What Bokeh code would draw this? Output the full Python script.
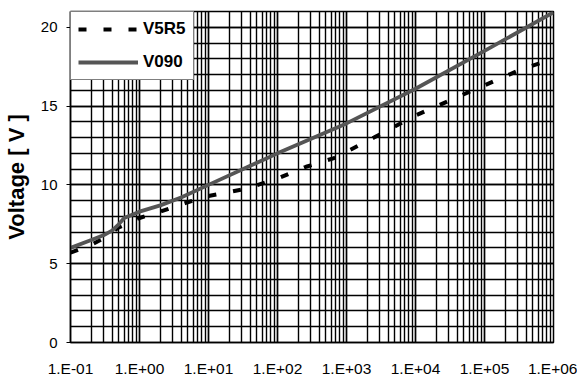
from bokeh.plotting import figure
from bokeh.models import FixedTicker, Range1d, Legend, LegendItem
from bokeh.embed import file_html
from bokeh.resources import INLINE

# Data
v5r5_x = [0.1, 0.2, 0.3, 0.5, 0.7, 1, 2, 5, 10, 35, 100, 260, 660, 1000, 2500, 1e4, 6e4, 3.3e5, 1e6]
v5r5_y = [5.7, 6.2, 6.6, 7.3, 7.6, 7.9, 8.3, 8.9, 9.3, 9.75, 10.4, 11.15, 11.7, 12.1, 13.0, 14.4, 15.9, 17.3, 18.0]
v090_x = [0.1, 0.2, 0.3, 0.4, 0.5, 0.6, 1, 2, 4, 10, 100, 1000, 1e4, 1e5, 1e6]
v090_y = [6.0, 6.5, 6.8, 7.1, 7.5, 7.9, 8.3, 8.7, 9.2, 10.0, 12.0, 13.9, 16.1, 18.5, 20.95]

x_ticks = [0.1, 1, 10, 100, 1000, 1e4, 1e5, 1e6]
x_tick_labels = ["1.E-01", "1.E+00", "1.E+01", "1.E+02", "1.E+03", "1.E+04", "1.E+05", "1.E+06"]
y_ticks = [0, 5, 10, 15, 20]
y_max = 21

FONT = "Liberation Sans"

p = figure(width=577, height=381, x_axis_type="log",
           x_range=Range1d(0.1, 1e6), y_range=Range1d(0, y_max),
           output_backend="svg", toolbar_location=None,
           min_border_left=69, min_border_right=24, min_border_top=11, min_border_bottom=39)
p.background_fill_color = "white"
p.border_fill_color = "white"
p.outline_line_color = "black"
p.outline_line_width = 1.5

x_minor = [m * d for d in x_ticks[:-1] for m in range(1, 11)]
y_minor = list(range(0, y_max + 1))
p.xaxis.ticker = FixedTicker(ticks=x_ticks, minor_ticks=x_minor)
p.yaxis.ticker = FixedTicker(ticks=y_ticks, minor_ticks=y_minor)
p.xaxis.major_label_overrides = {t: l for t, l in zip(x_ticks, x_tick_labels)}

for g in (p.xgrid, p.ygrid):
    g.grid_line_color = "black"
    g.grid_line_width = 1.4
    g.grid_line_alpha = 1.0
    g.minor_grid_line_color = "black"
    g.minor_grid_line_width = 1.4

for ax in (p.xaxis, p.yaxis):
    ax.axis_line_color = "black"
    ax.axis_line_width = 1.5
    ax.minor_tick_line_color = None
    ax.major_label_text_font = FONT
    ax.major_label_text_color = "black"

p.xaxis.major_label_text_font_size = "15.5px"
p.yaxis.major_label_text_font_size = "15px"
p.xaxis.major_tick_out = 0
p.xaxis.major_tick_in = 0
p.xaxis.major_label_standoff = 13
p.yaxis.major_tick_out = 4
p.yaxis.major_tick_in = 0
p.yaxis.major_tick_line_color = "black"
p.yaxis.major_label_standoff = 9
p.yaxis.axis_label = "Voltage [ V ]"
p.yaxis.axis_label_text_font = FONT
p.yaxis.axis_label_text_font_style = "bold"
p.yaxis.axis_label_text_font_size = "22px"
p.yaxis.axis_label_text_color = "black"
p.yaxis.axis_label_standoff = 9

r1 = p.line(v5r5_x, v5r5_y, line_color="black", line_width=4, line_dash="8 17")
r2 = p.line(v090_x, v090_y, line_color="#555555", line_width=3.8)

legend = Legend(items=[LegendItem(label="V5R5", renderers=[r1]),
                       LegendItem(label="V090", renderers=[r2])],
                location="top_left", margin=0, padding=7, spacing=13,
                glyph_width=60, glyph_height=20, label_height=20, label_standoff=5)
legend.label_text_font = FONT
legend.label_text_font_style = "bold"
legend.label_text_font_size = "17px"
legend.label_text_color = "black"
legend.border_line_color = "black"
legend.border_line_width = 1.5
legend.background_fill_color = "white"
legend.background_fill_alpha = 1.0
p.add_layout(legend, "center")

open("out.html", "w").write(file_html(p, INLINE))
